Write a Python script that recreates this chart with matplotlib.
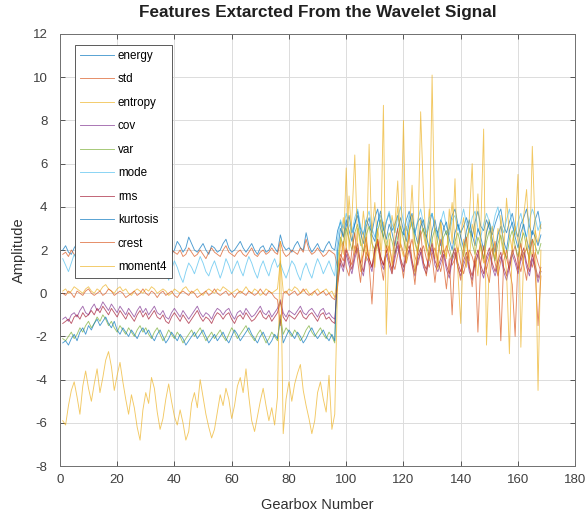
import numpy as np
import matplotlib
matplotlib.use("Agg")
import matplotlib.pyplot as plt

names = ["energy", "std", "entropy", "cov", "var", "mode", "rms", "kurtosis", "crest", "moment4"]

energy = [2.0,2.2,1.9,1.8,2.1,2.3,2.0,1.7,1.9,2.2,2.4,2.1,1.9,2.0,2.3,2.1,1.8,2.0,2.2,1.9,2.1,2.4,2.2,1.9,1.8,2.0,2.3,2.1,1.9,2.2,2.0,1.8,2.1,2.3,2.0,1.9,2.2,2.1,1.8,2.0,2.4,2.2,1.9,2.1,2.6,2.3,2.0,1.9,2.1,2.3,2.0,1.8,2.2,2.1,1.9,2.0,2.3,2.5,2.1,1.9,2.0,2.2,2.4,2.1,1.9,2.1,2.3,2.0,1.8,2.1,2.2,1.9,2.0,2.3,2.1,1.9,2.7,2.2,2.0,2.1,1.9,2.2,2.4,2.1,2.0,2.8,2.2,1.9,2.1,2.3,2.0,1.9,2.2,2.4,2.1,2.0,
          2.9,3.3,2.6,3.1,3.6,2.8,3.2,3.8,3.0,2.7,3.4,3.1,2.8,3.5,3.9,3.0,2.6,3.3,3.7,2.9,3.2,3.6,3.0,2.7,3.4,3.8,3.1,2.8,3.3,3.5,2.9,2.6,3.2,3.7,3.0,2.8,3.4,3.1,2.7,3.0,3.6,3.9,3.2,2.8,3.1,3.5,3.0,2.6,3.3,3.8,3.1,2.9,3.4,3.0,2.7,3.2,3.6,3.9,3.1,2.8,3.3,3.7,3.0,2.6,3.2,3.5,3.9,3.1,2.7,3.4,3.8,3.0]

std = [1.8,1.9,1.7,2.0,1.8,1.6,1.9,2.1,1.8,1.7,2.0,1.9,1.7,1.8,2.1,2.0,1.8,1.9,1.7,1.6,1.9,2.0,1.8,1.7,1.9,2.1,1.9,1.8,1.6,1.9,2.0,1.8,1.7,1.9,2.2,1.9,1.8,1.7,2.0,1.9,1.8,2.0,1.7,1.8,2.1,1.9,1.7,1.8,2.0,1.8,1.6,1.9,2.1,1.9,1.8,1.7,2.0,2.2,1.9,1.8,1.7,1.9,2.0,1.8,1.7,1.9,2.1,1.8,1.7,1.9,2.0,1.8,1.9,2.1,1.9,1.8,2.4,1.9,1.7,1.8,2.0,1.9,1.8,2.1,1.9,2.5,2.0,1.8,1.9,2.1,1.9,1.7,1.8,2.0,1.9,1.8,
       1.2,1.8,1.5,2.1,1.7,1.3,2.2,1.9,1.4,1.8,2.3,1.6,1.2,2.0,2.4,1.7,1.3,1.9,2.2,1.5,1.1,1.8,2.3,1.9,1.4,2.0,2.5,1.7,1.3,1.9,2.2,1.6,1.2,1.8,2.1,1.5,1.0,1.7,2.2,1.8,1.3,1.6,2.1,1.4,0.9,1.5,2.0,1.7,1.2,1.8,2.3,1.6,1.1,1.7,2.1,1.4,0.8,1.5,2.0,1.6,1.1,1.8,2.2,1.5,1.0,1.7,2.1,1.6,1.2,1.9,1.4,1.0]

entropy = [0.1,0.2,0.0,0.1,0.3,0.2,0.1,0.0,0.2,0.3,0.1,0.0,0.2,0.1,0.3,0.4,0.2,0.1,0.0,0.2,0.3,0.1,0.2,0.0,-0.1,0.1,0.2,0.1,0.0,0.2,0.1,0.3,0.2,0.0,0.1,0.2,0.1,-0.1,0.0,0.2,0.1,0.0,0.2,0.3,0.1,0.0,0.1,0.2,0.0,-0.1,0.1,0.2,0.1,0.0,0.2,0.1,0.3,0.2,0.1,0.0,0.1,0.2,0.0,0.1,0.3,0.1,0.0,0.2,0.1,-0.1,0.0,0.2,0.1,0.0,0.1,0.2,1.5,0.1,0.0,0.2,0.1,0.3,0.2,0.0,0.1,0.2,0.0,-0.1,0.1,0.2,0.0,0.1,0.2,0.0,0.1,-0.2,
           1.0,2.2,3.5,2.0,4.5,2.6,1.8,3.0,2.2,3.8,2.5,1.6,2.9,4.2,2.1,1.5,3.3,2.4,1.9,3.6,2.8,4.0,2.2,1.7,3.1,2.6,5.0,2.3,1.8,3.4,2.7,2.0,3.9,2.5,1.6,2.8,3.3,2.1,1.7,3.0,4.2,2.4,1.9,2.7,3.5,2.2,1.5,3.2,2.6,4.6,2.0,1.4,2.9,3.4,2.3,1.6,3.0,2.5,1.8,4.4,2.7,2.0,3.1,2.4,1.5,3.6,4.8,2.2,1.7,2.9,2.3,3.2]

cov = [-1.2,-1.1,-1.3,-1.0,-0.9,-1.1,-0.8,-0.6,-0.9,-1.0,-0.7,-0.5,-0.8,-0.7,-0.4,-0.6,-0.8,-0.5,-0.7,-0.9,-0.6,-0.8,-1.0,-0.7,-0.9,-1.1,-0.8,-0.6,-0.9,-0.7,-1.0,-0.8,-0.6,-0.9,-1.0,-0.8,-1.1,-1.2,-0.9,-0.7,-0.9,-1.1,-0.8,-1.0,-1.2,-1.0,-0.8,-0.6,-0.9,-1.1,-0.9,-1.0,-1.2,-0.9,-0.7,-0.8,-1.0,-0.8,-0.7,-1.0,-1.2,-0.9,-0.8,-1.0,-0.7,-0.9,-1.1,-1.0,-0.8,-0.6,-0.9,-1.0,-0.8,-1.1,-0.9,-0.7,-0.3,-0.9,-1.1,-0.8,-0.9,-1.0,-0.8,-0.6,-0.9,-1.0,-0.8,-0.7,-0.9,-1.1,-0.8,-0.7,-1.0,-0.9,-1.1,-1.2,
       0.5,1.4,1.0,1.8,1.3,0.9,1.6,2.1,1.2,0.8,1.7,1.4,1.0,1.9,2.3,1.5,1.1,1.8,1.3,0.9,1.6,2.2,1.4,1.0,1.7,2.0,1.3,0.8,1.5,1.9,1.2,0.9,1.6,2.1,1.3,1.0,1.4,1.8,1.1,0.7,1.5,1.9,1.2,0.8,1.3,1.7,1.0,0.6,1.4,1.8,1.1,0.7,1.5,1.9,1.2,0.8,1.3,1.7,1.0,0.6,1.2,1.8,1.4,0.9,1.5,1.9,1.2,0.8,1.6,1.1,0.5,1.0]

var = [-2.1,-2.2,-2.0,-1.8,-2.1,-1.9,-1.6,-1.8,-1.5,-1.3,-1.6,-1.4,-1.1,-1.3,-1.0,-1.2,-1.5,-1.3,-1.6,-1.8,-1.5,-1.7,-1.9,-1.6,-1.8,-2.0,-1.7,-1.5,-1.8,-1.6,-1.9,-2.1,-1.8,-1.6,-1.9,-2.2,-2.0,-1.7,-1.9,-2.1,-1.8,-2.0,-2.3,-2.1,-1.9,-1.7,-2.0,-1.8,-1.6,-1.9,-2.2,-2.0,-1.8,-2.1,-1.9,-1.7,-2.0,-2.2,-1.9,-1.6,-1.8,-2.1,-1.9,-1.7,-1.5,-1.8,-2.0,-2.2,-1.9,-1.7,-2.0,-2.3,-2.1,-1.8,-2.0,-2.2,-1.0,-1.9,-1.6,-1.8,-2.0,-1.7,-1.9,-2.2,-2.0,-1.7,-1.5,-1.8,-2.0,-1.8,-1.6,-1.9,-2.1,-1.8,-2.0,-2.3,
       1.5,2.6,2.2,3.0,2.5,2.0,2.8,3.2,2.4,1.9,2.7,3.1,2.3,2.0,2.9,3.4,2.6,2.1,2.8,2.4,1.8,2.6,3.1,2.5,2.0,2.9,3.3,2.4,1.9,2.7,3.0,2.2,1.7,2.5,3.0,2.3,1.8,2.6,2.9,2.1,1.6,2.4,2.8,2.2,1.7,2.5,3.0,2.3,1.8,2.6,2.2,1.6,2.4,2.9,2.1,1.5,2.3,2.7,2.0,1.6,2.5,2.9,2.2,1.7,2.4,2.8,2.1,1.6,2.5,2.2,1.8,2.3]

mode = [1.6,1.3,1.0,1.4,1.8,1.5,1.1,0.8,1.2,1.6,1.9,1.4,1.0,1.3,1.7,1.2,0.9,1.4,1.8,1.5,1.1,0.7,1.2,1.6,1.3,0.9,1.4,1.9,1.5,1.1,1.4,1.7,1.2,0.8,1.3,1.6,1.0,0.6,1.1,1.5,1.2,0.8,0.5,1.0,1.4,1.2,0.9,1.3,1.7,1.4,1.0,0.8,1.2,1.5,1.1,0.7,1.1,1.6,1.3,0.9,1.2,1.5,1.1,0.8,1.3,1.7,1.4,1.0,0.7,1.2,1.5,1.1,0.8,1.3,1.6,1.2,1.4,1.0,0.7,1.1,1.5,1.3,0.9,0.6,1.1,1.4,1.0,0.7,1.2,1.6,1.3,0.9,1.2,1.5,1.1,0.8,
        2.5,3.4,3.0,3.7,3.2,2.8,3.5,3.9,3.1,2.7,3.4,3.8,3.0,2.6,3.3,3.6,2.9,3.3,3.8,3.2,2.8,3.5,4.0,3.3,2.9,3.6,3.1,2.7,3.4,3.9,3.2,2.8,3.5,3.7,3.0,2.6,3.3,3.8,3.1,2.7,3.4,3.6,2.9,3.3,3.9,3.2,2.8,3.5,3.8,3.0,2.6,3.2,3.7,3.3,2.9,3.6,4.0,3.2,2.8,3.4,3.9,3.1,2.7,3.3,3.7,3.0,2.6,3.4,3.9,3.5,2.9,3.3]

rms = [-1.4,-1.3,-1.2,-1.4,-1.1,-1.0,-1.2,-0.9,-1.1,-1.0,-0.8,-1.0,-0.7,-0.9,-0.6,-0.8,-1.0,-0.7,-0.9,-1.1,-0.8,-1.0,-1.2,-0.9,-1.1,-1.3,-1.0,-0.8,-1.1,-0.9,-1.2,-1.0,-0.8,-1.1,-1.2,-1.0,-1.3,-1.4,-1.1,-0.9,-1.1,-1.3,-1.0,-1.2,-1.4,-1.2,-1.0,-0.8,-1.1,-1.3,-1.1,-1.2,-1.4,-1.1,-0.9,-1.0,-1.2,-1.0,-0.9,-1.2,-1.4,-1.1,-1.0,-1.2,-0.9,-1.1,-1.3,-1.2,-1.0,-0.8,-1.1,-1.2,-1.0,-1.3,-1.1,-0.9,-0.4,-1.1,-1.3,-1.0,-1.1,-1.2,-1.0,-0.8,-1.1,-1.2,-1.0,-0.9,-1.1,-1.3,-1.0,-0.9,-1.2,-1.1,-1.3,-1.4,
       0.8,1.6,1.2,2.0,1.5,1.1,1.8,2.3,1.4,1.0,1.9,1.6,1.2,2.1,2.5,1.7,1.3,2.0,1.5,1.1,1.8,2.4,1.6,1.2,1.9,2.2,1.5,1.0,1.7,2.1,1.4,1.1,1.8,2.3,1.5,1.2,1.6,2.0,1.3,0.9,1.7,2.1,1.4,1.0,1.5,1.9,1.2,0.8,1.6,2.0,1.3,0.9,1.7,2.1,1.4,1.0,1.5,1.9,1.2,0.8,1.4,2.0,1.6,1.1,1.7,2.1,1.4,1.0,1.8,1.3,0.7,1.2]

kurtosis = [-2.3,-2.2,-2.4,-2.1,-1.9,-2.2,-1.8,-1.6,-1.9,-1.5,-1.7,-1.4,-1.2,-1.5,-1.3,-1.1,-1.4,-1.6,-1.3,-1.7,-1.9,-1.6,-1.8,-2.0,-1.7,-1.9,-2.1,-1.8,-1.6,-1.9,-1.7,-2.0,-2.2,-1.9,-1.7,-2.0,-2.3,-2.1,-1.8,-2.0,-2.2,-1.9,-2.1,-2.4,-2.2,-2.0,-1.8,-2.1,-1.9,-1.7,-2.0,-2.3,-2.1,-1.9,-2.2,-2.0,-1.8,-2.1,-2.3,-2.0,-1.7,-1.9,-2.2,-2.0,-1.8,-1.6,-1.9,-2.1,-2.3,-2.0,-1.8,-2.1,-2.4,-2.2,-1.9,-2.1,-1.2,-2.3,-2.0,-1.7,-1.9,-2.1,-1.8,-2.0,-2.3,-2.1,-1.8,-1.6,-1.9,-2.1,-1.9,-1.7,-2.0,-2.2,-1.9,-2.2,
            2.0,3.0,2.6,3.4,2.9,2.4,3.2,3.6,2.8,2.3,3.1,3.5,2.7,2.4,3.3,3.8,3.0,2.5,3.2,2.8,2.2,3.0,3.5,2.9,2.4,3.3,3.7,2.8,2.3,3.1,3.4,2.6,2.1,2.9,3.4,2.7,2.2,3.0,3.3,2.5,2.0,2.8,3.2,2.6,2.1,2.9,3.4,2.7,2.2,3.0,2.6,2.0,2.8,3.3,2.5,1.9,2.7,3.1,2.4,2.0,2.9,3.3,2.6,2.1,2.8,3.2,2.5,2.0,2.9,2.6,2.2,2.7]

crest = [0.0,-0.1,0.1,0.0,-0.2,0.1,0.0,-0.1,0.1,0.2,0.0,-0.1,0.0,0.1,-0.1,0.0,0.2,0.1,-0.1,0.0,0.1,0.0,-0.2,-0.1,0.0,0.1,-0.1,0.0,0.2,0.0,-0.1,0.1,0.0,-0.2,0.0,0.1,-0.1,0.0,0.1,-0.1,-0.2,0.0,0.1,0.0,-0.1,0.1,0.0,-0.2,-0.1,0.0,0.1,-0.1,0.0,0.2,0.0,-0.1,0.0,0.1,-0.1,0.0,-0.2,0.0,0.1,0.0,-0.1,0.1,0.0,-0.1,0.0,0.2,0.0,-0.1,0.1,0.0,-0.2,-0.3,-1.5,0.0,0.1,-0.1,0.0,0.1,-0.1,0.0,0.2,0.0,-0.1,0.0,0.1,-0.1,0.0,0.1,-0.1,0.0,-0.2,-0.3,
         0.3,1.5,2.4,1.2,0.8,2.0,2.8,1.5,0.5,1.9,2.6,1.3,-0.5,1.8,2.5,1.4,0.6,2.2,1.7,0.9,2.4,3.0,1.6,0.7,1.9,2.7,1.5,0.4,2.0,2.9,1.4,0.8,2.2,1.7,0.5,1.8,2.5,1.3,0.2,1.6,-1.0,1.9,1.2,0.6,2.1,2.6,1.3,0.3,1.7,-1.8,1.4,2.2,1.0,0.5,1.8,2.4,1.2,-2.2,1.5,2.0,1.1,0.4,-2.0,1.6,2.3,1.3,0.6,1.9,2.5,1.0,-1.5,0.8]

moment4 = [-5.9,-6.1,-5.2,-4.5,-4.1,-4.8,-5.6,-4.3,-3.6,-4.4,-5.0,-4.2,-3.5,-4.6,-3.9,-3.1,-2.7,-3.4,-4.5,-3.8,-3.2,-4.1,-4.9,-5.6,-4.7,-5.3,-6.2,-6.8,-5.4,-4.6,-5.1,-3.9,-4.4,-5.5,-6.3,-5.8,-4.9,-4.2,-5.0,-5.7,-6.1,-5.4,-6.0,-6.8,-6.4,-5.1,-4.6,-5.3,-4.0,-4.8,-5.6,-6.2,-6.7,-6.3,-5.5,-4.7,-5.2,-4.4,-4.9,-5.8,-5.2,-4.3,-3.9,-4.6,-3.5,-4.8,-5.9,-6.4,-5.7,-5.0,-4.4,-5.2,-5.9,-5.3,-6.1,-4.8,2.4,-6.5,-4.9,-4.1,-5.0,-4.2,-3.7,-3.3,-4.5,-5.2,-5.8,-6.5,-5.9,-4.6,-4.1,-4.9,-5.5,-3.8,-6.3,-5.6,
           0.5,2.5,1.8,5.8,2.0,3.5,6.4,2.2,1.0,2.8,1.5,6.9,2.4,1.2,3.0,2.0,8.7,-1.9,2.5,1.3,3.2,5.2,2.1,8.0,1.4,2.8,3.6,0.9,2.2,8.4,4.5,2.0,1.5,10.1,2.6,1.1,3.3,2.0,1.6,3.9,2.3,5.3,1.0,-1.4,2.5,1.2,3.5,6.0,1.8,0.8,2.9,7.6,-2.4,1.5,3.1,2.0,0.9,3.6,2.2,1.0,-2.8,2.4,3.0,5.5,-2.5,1.8,2.6,1.2,6.8,3.0,-4.5,2.0]

series = [energy, std, entropy, cov, var, mode, rms, kurtosis, crest, moment4]
colors = ["#0072BD", "#D95319", "#EDB120", "#7E2F8E", "#77AC30",
          "#4DBEEE", "#A2142F", "#0072BD", "#D95319", "#EDB120"]

plt.rcParams['font.family'] = ['Liberation Sans', 'DejaVu Sans']
plt.rcParams['axes.unicode_minus'] = False

fig = plt.figure(figsize=(5.87, 5.19), dpi=100)
ax = fig.add_axes([0.102, 0.102, 0.878, 0.8325])

for name, vals, c in zip(names, series, colors):
    x = np.arange(1, len(vals) + 1)
    ax.plot(x, vals, color=c, lw=0.65, alpha=0.7, label=name)

ax.set_xlim(0, 180)
ax.set_ylim(-8, 12)
ax.set_xticks(np.arange(0, 181, 20))
ax.set_yticks(np.arange(-8, 13, 2))
ax.grid(True, color='#dcdcdc', lw=0.7)
ax.set_axisbelow(True)
ax.tick_params(direction='in', length=3.5, top=True, right=True, labelsize=9.5,
               colors='#404040', width=0.6)
ax.tick_params(axis='y', pad=9)
ax.tick_params(axis='x', pad=6)
for s in ax.spines.values():
    s.set_color('#707070')
    s.set_linewidth(0.7)

ax.set_title("Features Extarcted From the Wavelet Signal", fontsize=12.3,
             fontweight='bold', color='#202020', pad=12)
ax.set_xlabel("Gearbox Number", fontsize=10.5, color='#303030', labelpad=8)
ax.set_ylabel("Amplitude", fontsize=10.5, color='#303030', labelpad=5)

leg = ax.legend(loc='upper left', bbox_to_anchor=(0.029, 0.975), borderaxespad=0,
                fontsize=8.4, handlelength=2.9, labelspacing=0.98, fancybox=False,
                framealpha=1, edgecolor='#404040', borderpad=0.45, handletextpad=0.35)
leg.get_frame().set_linewidth(0.6)

fig.savefig("out.png", dpi=100)
